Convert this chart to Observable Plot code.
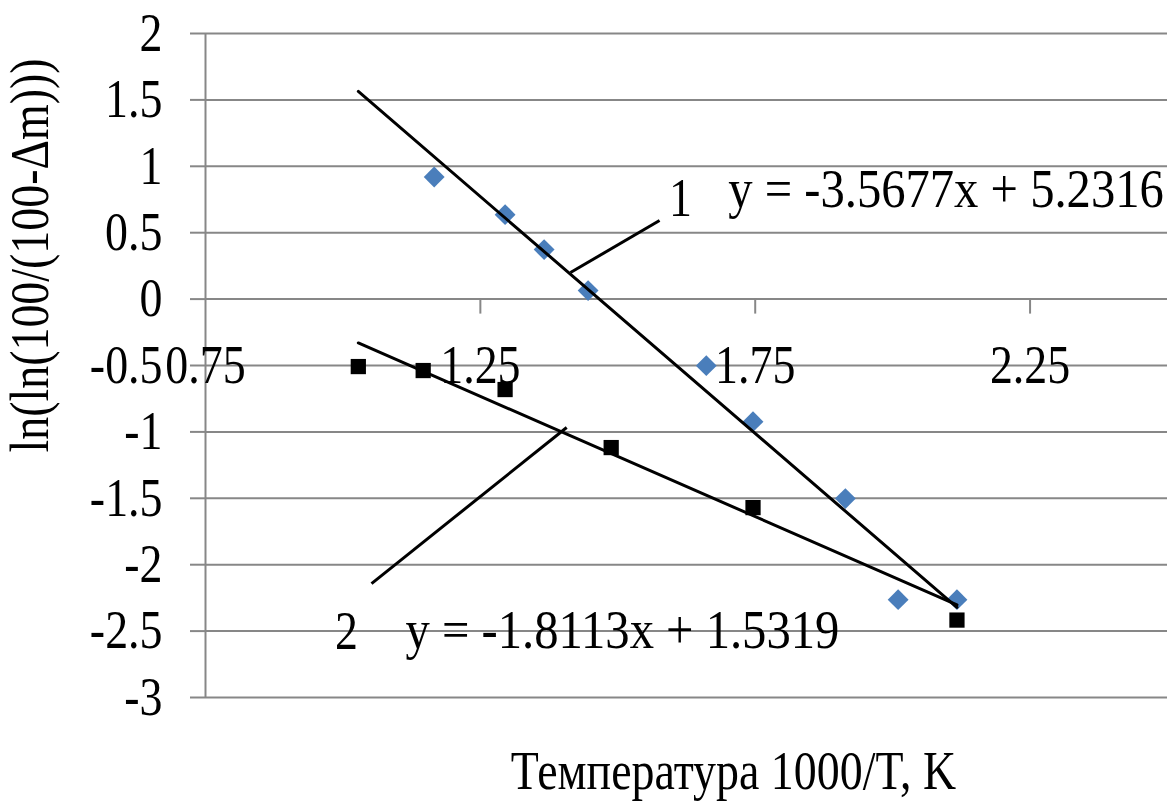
<!DOCTYPE html>
<html><head><meta charset="utf-8">
<script src="https://cdn.jsdelivr.net/npm/d3@7"></script>
<script src="https://cdn.jsdelivr.net/npm/@observablehq/plot@0.6"></script>
<style>body{margin:0;background:#fff}</style>
</head><body><div id="chart"></div>
<script>
// Series 1 (blue diamonds) and series 2 (black squares)
const series1X = [1.166, 1.295, 1.366, 1.446, 1.661, 1.746, 1.914, 2.010, 2.117];
const series1Y = [0.919, 0.636, 0.373, 0.064, -0.501, -0.923, -1.502, -2.263, -2.263];
const series2X = [1.028, 1.146, 1.295, 1.488, 1.746, 2.117];
const series2Y = [-0.508, -0.538, -0.681, -1.118, -1.570, -2.417];
// Linear trendlines (Excel equations)
const trendSlopes = [-3.5677, -1.8113];
const trendIntercepts = [5.2316, 1.5319];
const trendXRange = [1.028, 2.117];
const equations = ["y = -3.5677x + 5.2316", "y = -1.8113x + 1.5319"];
const seriesLabels = ["1", "2"];
// Axes
const xDomain = [0.75, 2.5];
const yDomain = [-3, 2];
const xTicks = [0.75, 1.25, 1.75, 2.25];
const yTicks = [2, 1.5, 1, 0.5, 0, -0.5, -1, -1.5, -2, -2.5, -3];
const xTitle = "Температура 1000/T, K";
const yTitle = "ln(ln(100/(100-Δm)))";
// Annotation anchors (data units)
const labelX = [1.614, 1.0065], labelY = [0.758, -2.503];
const eqX = [1.701, 1.114], eqY = [0.825, -2.496];
const leaderX1 = [1.414, 1.052], leaderY1 = [0.20, -2.142];
const leaderX2 = [1.576, 1.407], leaderY2 = [0.592, -0.967];

const GRID = "#878787";
const FS = 54;
const SX = 0.85;
const SX_EQ = 0.9;

const s1 = series1X.map((x, i) => ({x, y: series1Y[i]}));
const s2 = series2X.map((x, i) => ({x, y: series2Y[i]}));
const trend = trendSlopes.flatMap((m, k) => trendXRange.map(x => ({k, x, y: m * x + trendIntercepts[k]})));
const idx = d3.range(2);

const plot = Plot.plot({
  width: 1173,
  height: 804,
  marginLeft: 205,
  marginRight: 6,
  marginTop: 33,
  marginBottom: 107,
  style: {fontFamily: "'Liberation Serif', 'Times New Roman', serif", fontSize: FS + "px", background: "#fff", color: "#000"},
  x: {domain: xDomain, axis: null},
  y: {domain: yDomain, axis: null},
  marks: [
    Plot.gridY(yTicks, {stroke: GRID, strokeOpacity: 1, strokeWidth: 2}),
    Plot.axisY(yTicks, {anchor: "left", tickSize: 15, tickPadding: 28, tickFormat: d => String(d), stroke: GRID, strokeWidth: 2, fill: "#000", fontSize: FS, label: null}),
    Plot.ruleX([xDomain[0]], {stroke: GRID, strokeWidth: 2}),
    Plot.ruleY([0], {stroke: GRID, strokeWidth: 2}),
    Plot.ruleX(xTicks.slice(1), {x: d => d, y1: 0, y2: 0, insetBottom: -15, stroke: GRID, strokeWidth: 2}),
    Plot.text(xTicks, {x: d => d, y: 0, text: d => d.toFixed(2), dy: 67, fontSize: FS, lineAnchor: "middle", fill: "#000"}),
    Plot.dot(s1, {x: "x", y: "y", symbol: "diamond2", r: 9.4, fill: "#4a7ebb", stroke: "none"}),
    Plot.dot(s2, {x: "x", y: "y", symbol: "square", r: 8.6, fill: "#000", stroke: "none"}),
    Plot.line(trend, {x: "x", y: "y", z: "k", stroke: "#000", strokeWidth: 3}),
    Plot.link(idx, {x1: i => leaderX1[i], y1: i => leaderY1[i], x2: i => leaderX2[i], y2: i => leaderY2[i], stroke: "#000", strokeWidth: 3}),
    Plot.text(idx, {x: i => labelX[i], y: i => labelY[i], text: i => seriesLabels[i], fontSize: FS, lineAnchor: "middle", fill: "#000"}),
    Plot.text(idx, {x: i => eqX[i], y: i => eqY[i], text: i => equations[i], fontSize: FS, textAnchor: "start", lineAnchor: "middle", fill: "#000", className: "eq"}),
    Plot.text([yTitle], {frameAnchor: "left", rotate: -90, dx: -175, dy: -110, fontSize: FS, textAnchor: "middle", lineAnchor: "middle", fill: "#000"}),
    Plot.text([xTitle], {frameAnchor: "bottom", dx: 47, dy: 74, fontSize: FS, textAnchor: "middle", lineAnchor: "middle", fill: "#000"})
  ]
});

document.getElementById("chart").appendChild(plot);

// Condense text horizontally (narrow serif look of the original)
plot.querySelectorAll("text").forEach(t => {
  const len = t.getComputedTextLength();
  const isEq = !!t.closest(".eq");
  if (len > 0) {
    t.setAttribute("textLength", (len * (isEq ? SX_EQ : SX)).toFixed(2));
    t.setAttribute("lengthAdjust", "spacingAndGlyphs");
  }
});
</script>
</body></html>
